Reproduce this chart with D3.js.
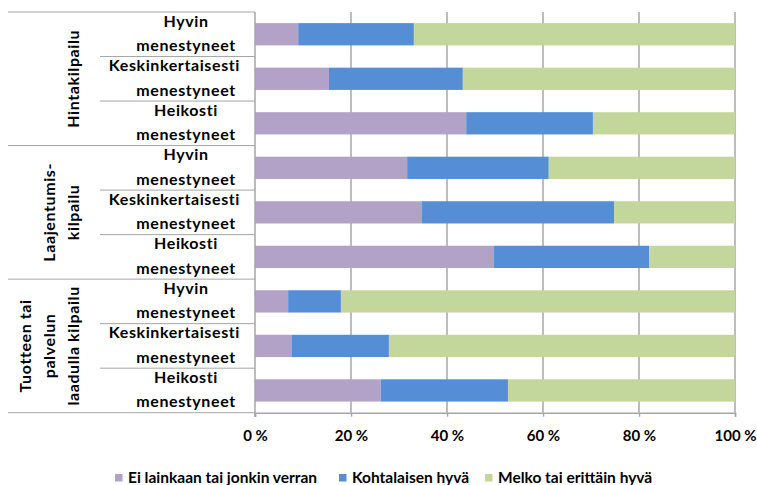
<!DOCTYPE html>
<html>
<head>
<meta charset="utf-8">
<script src="https://cdn.jsdelivr.net/npm/d3@7"></script>
<style>
  body { margin: 0; background: #fff; }
  text { font-family: Lato, "Open Sans", sans-serif; font-weight: bold; fill: #000; }
</style>
</head>
<body>
<script>
var groups = ["Hintakilpailu", "Laajentumis-kilpailu", "Tuotteen tai palvelun laadulla kilpailu"]
var groupLines = [["Hintakilpailu"], ["Laajentumis-", "kilpailu"], ["Tuotteen tai", "palvelun", "laadulla kilpailu"]]
var subCategories = ["Hyvin menestyneet", "Keskinkertaisesti menestyneet", "Heikosti menestyneet"]
var seriesNames = ["Ei lainkaan tai jonkin verran", "Kohtalaisen hyvä", "Melko tai erittäin hyvä"]

// percent values, rows top to bottom
var lowValues = [9.0, 15.4, 44.0, 31.7, 34.8, 49.8, 6.9, 7.7, 26.2]
var midValues = [24.1, 27.9, 26.4, 29.5, 40.0, 32.3, 11.0, 20.2, 26.5]
var highValues = [66.9, 56.7, 29.6, 38.8, 25.2, 17.9, 82.1, 72.1, 47.3]
var tickValues = [0, 20, 40, 60, 80, 100]

var colors = ["#b3a2c7", "#558ed5", "#c3d69b"]

var width = 757
var height = 485
// plot box (window.top is read-only, so no "top" here)
var plotLeft = 255, plotRight = 735, plotTop = 12, plotBottom = 412.7
var labelSize = "15.5px"
var catSize = "16px"

var rows = []
groups.forEach(function(g, gi) {
  subCategories.forEach(function(s, si) {
    var i = gi * 3 + si
    rows.push({id: g + "|" + s, group: gi, name: s,
               low: lowValues[i], mid: midValues[i], high: highValues[i]})
  })
})

var svg = d3.select("body").append("svg")
            .attr("width", width)
            .attr("height", height)

var x = d3.scaleLinear().domain([0, 100]).range([plotLeft, plotRight])
var y = d3.scaleBand().domain(rows.map(function(d) {return d.id}))
          .range([plotTop, plotBottom]).paddingInner(0.5).paddingOuter(0.25)

// gridlines
svg.append("g").selectAll("line")
   .data(tickValues.slice(1))
   .enter().append("line")
   .attr("x1", function(d) {return x(d)}).attr("x2", function(d) {return x(d)})
   .attr("y1", plotTop).attr("y2", plotBottom)
   .attr("stroke", "#bdbdbd").attr("stroke-width", 2)

var stack = d3.stack().keys(["low", "mid", "high"])(rows)

svg.append("g").selectAll("g")
   .data(stack)
   .enter().append("g")
   .attr("fill", function(d, i) {return colors[i]})
   .selectAll("rect")
   .data(function(d) {return d})
   .enter().append("rect")
   .attr("x", function(d) {return x(d[0])})
   .attr("width", function(d) {return x(d[1]) - x(d[0])})
   .attr("y", function(d) {return y(d.data.id)})
   .attr("height", y.bandwidth())

// bottom axis
var xAxis = svg.append("g")
   .attr("transform", "translate(0," + plotBottom + ")")
   .call(d3.axisBottom(x).tickValues(tickValues).tickSize(4).tickPadding(14)
           .tickFormat(function(d) {return d + " %"}))
xAxis.select(".domain").attr("stroke", "#a6a6a6").attr("stroke-width", 1.5)
xAxis.selectAll(".tick line").attr("stroke", "#a6a6a6").attr("stroke-width", 1.5)
xAxis.selectAll("text").attr("font-size", "15px").attr("fill", "#000").attr("font-family", null)

// left axis line
svg.append("line")
   .attr("x1", plotLeft).attr("x2", plotLeft).attr("y1", plotTop).attr("y2", plotBottom + 4)
   .attr("stroke", "#a6a6a6").attr("stroke-width", 1.5)

// category separators
var step = y.step()
var sepLines = []
rows.forEach(function(d, i) {
  sepLines.push({y: plotTop + i * step, x1: (i % 3 == 0) ? 8 : 100})
})
sepLines.push({y: plotBottom, x1: 8})
svg.append("g").selectAll("line")
   .data(sepLines)
   .enter().append("line")
   .attr("x1", function(d) {return d.x1}).attr("x2", plotLeft)
   .attr("y1", function(d) {return d.y}).attr("y2", function(d) {return d.y})
   .attr("stroke", "#a6a6a6").attr("stroke-width", 1)

// category labels (two lines each)
var catLabels = svg.append("g").selectAll("g")
   .data(rows)
   .enter().append("g")
   .attr("transform", function(d, i) {return "translate(0," + (plotTop + i * step) + ")"})

catLabels.each(function(d) {
  var g = d3.select(this)
  var parts = d.name.split(" ")
  parts.forEach(function(p, j) {
    var t = g.append("text")
             .attr("x", 186).attr("y", j == 0 ? 14.5 : 39)
             .attr("text-anchor", "middle")
             .attr("font-size", catSize)
             .attr("letter-spacing", "0.6px")
             .text(p)
    var w = t.node().getComputedTextLength()
    if (186 + w / 2 > 240) t.attr("x", 240 - w / 2)
  })
})

// group labels, rotated
var groupStep = (plotBottom - plotTop) / 3
svg.append("g").selectAll("g")
   .data(groupLines)
   .enter().append("g")
   .attr("transform", function(d, i) {return "translate(79," + (plotTop + groupStep * (i + 0.5)) + ") rotate(-90)"})
   .each(function(lines) {
     var g = d3.select(this)
     lines.forEach(function(l, j) {
       g.append("text")
        .attr("x", 0).attr("y", -(lines.length - 1 - j) * 24)
        .attr("text-anchor", "middle")
        .attr("font-size", catSize)
        .attr("letter-spacing", "0.6px")
        .text(l)
     })
   })

// legend
var legendX = [115, 339, 485]
var legend = svg.append("g").selectAll("g")
   .data(seriesNames)
   .enter().append("g")
   .attr("transform", function(d, i) {return "translate(" + legendX[i] + ",474)"})
legend.append("rect")
   .attr("width", 7.5).attr("height", 7.5)
   .attr("fill", function(d, i) {return colors[i]})
legend.append("text")
   .attr("x", 13).attr("y", 8.5)
   .attr("font-size", labelSize)
   .text(function(d) {return d})
</script>
</body>
</html>
